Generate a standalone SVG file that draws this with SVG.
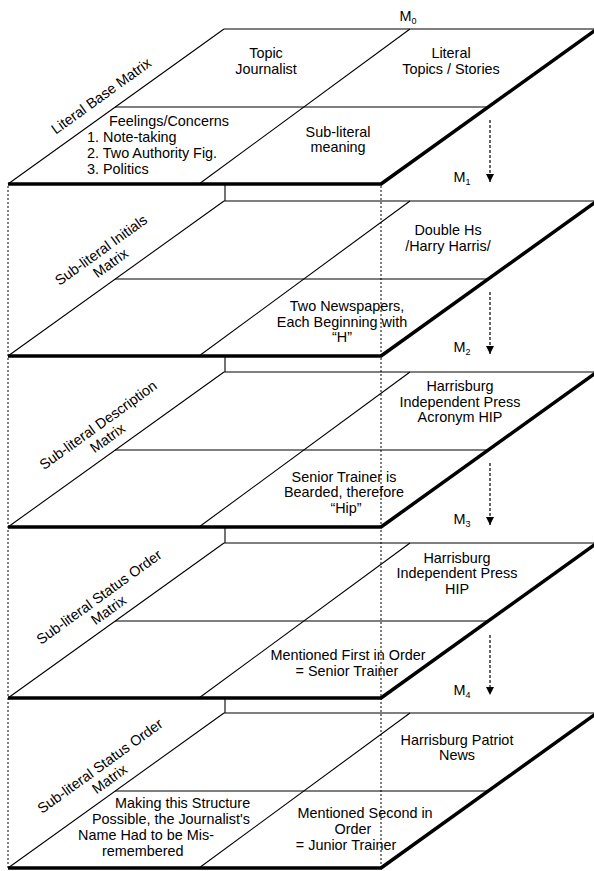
<svg xmlns="http://www.w3.org/2000/svg" width="594" height="871" viewBox="0 0 594 871">
<style>
  .bg{fill:#ffffff}
  .thin{stroke:#000;stroke-width:1.1;fill:none}
  .thick{stroke:#000;stroke-width:3.5;fill:none;stroke-linecap:butt}
  .dot{stroke:#000;stroke-width:1;stroke-dasharray:2,2;fill:none}
  .dash{stroke:#000;stroke-width:1.2;stroke-dasharray:3,2;fill:none}
  text{font-family:"Liberation Sans",Arial,sans-serif;font-size:14.4px;fill:#000}
  .c{text-anchor:middle}
  .sub{font-size:9px}
</style>
<defs>
  <marker id="ah" markerUnits="userSpaceOnUse" markerWidth="10" markerHeight="10" refX="8" refY="4" orient="auto">
    <path d="M0,0 L8,4 L0,8 z" fill="#000"/>
  </marker>
  <g id="plane">
    <line class="thin" x1="224" y1="0" x2="597" y2="0"/>
    <line class="thin" x1="8" y1="155" x2="224" y2="0"/>
    <line class="thin" x1="115" y1="78" x2="489" y2="78"/>
    <line class="thin" x1="410" y1="0" x2="199" y2="155"/>
    <line class="thick" x1="8" y1="155" x2="382" y2="155"/>
    <line class="thick" x1="381" y1="155" x2="597" y2="0"/>
  </g>
</defs>
<rect class="bg" x="0" y="0" width="594" height="871"/>

<g id="m0">
  <use href="#plane" transform="translate(0,29)"/>
  <text x="408" y="21" class="c">M<tspan class="sub" dy="3">0</tspan></text>
  <text transform="translate(104,100) rotate(-35.8)" class="c">Literal Base Matrix</text>
  <text class="c" x="266" y="58">Topic</text>
  <text class="c" x="266" y="74">Journalist</text>
  <text class="c" x="451" y="58">Literal</text>
  <text class="c" x="451" y="74">Topics / Stories</text>
  <text class="c" x="169" y="126">Feelings/Concerns</text>
  <text x="87" y="142">1. Note-taking</text>
  <text x="87" y="158">2. Two Authority Fig.</text>
  <text x="87" y="174">3. Politics</text>
  <text class="c" x="338" y="137">Sub-literal</text>
  <text class="c" x="338" y="152">meaning</text>
</g>

<g id="m1">
  <use href="#plane" transform="translate(0,201)"/>
  <g transform="translate(104,254) rotate(-35.8)">
    <text class="c" x="0" y="0">Sub-literal Initials</text>
    <text class="c" x="0" y="16">Matrix</text>
  </g>
  <text class="c" x="448" y="235">Double Hs</text>
  <text class="c" x="448" y="251">/Harry Harris/</text>
  <text class="c" x="347" y="311">Two Newspapers,</text>
  <text class="c" x="342" y="327">Each Beginning with</text>
  <text class="c" x="342" y="342">“H”</text>
</g>

<g id="m2">
  <use href="#plane" transform="translate(0,372)"/>
  <g transform="translate(101,429) rotate(-35.8)">
    <text class="c" x="0" y="0">Sub-literal Description</text>
    <text class="c" x="0" y="16">Matrix</text>
  </g>
  <text class="c" x="460" y="391">Harrisburg</text>
  <text class="c" x="460" y="407">Independent Press</text>
  <text class="c" x="460" y="422">Acronym HIP</text>
  <text class="c" x="344" y="482">Senior Trainer is</text>
  <text class="c" x="344" y="497">Bearded, therefore</text>
  <text class="c" x="346" y="513">“Hip”</text>
</g>

<g id="m3">
  <use href="#plane" transform="translate(0,543)"/>
  <g transform="translate(102,601) rotate(-35.8)">
    <text class="c" x="0" y="0">Sub-literal Status Order</text>
    <text class="c" x="0" y="16">Matrix</text>
  </g>
  <text class="c" x="457" y="563">Harrisburg</text>
  <text class="c" x="457" y="578">Independent Press</text>
  <text class="c" x="457" y="594">HIP</text>
  <text class="c" x="348" y="660">Mentioned First in Order</text>
  <text class="c" x="347" y="676">= Senior Trainer</text>
</g>

<g id="m4">
  <use href="#plane" transform="translate(0,713)"/>
  <g transform="translate(103,770) rotate(-35.8)">
    <text class="c" x="0" y="0">Sub-literal Status Order</text>
    <text class="c" x="0" y="16">Matrix</text>
  </g>
  <text class="c" x="457" y="745">Harrisburg Patriot</text>
  <text class="c" x="457" y="760">News</text>
  <text x="115" y="808">Making this Structure</text>
  <text x="92" y="824">Possible, the Journalist's</text>
  <text x="78" y="840">Name Had to be Mis-</text>
  <text x="102" y="856">remembered</text>
  <text class="c" x="365" y="818">Mentioned Second in</text>
  <text class="c" x="353" y="834">Order</text>
  <text class="c" x="346" y="850">= Junior Trainer</text>
</g>

<g id="connectors">
  <line class="dot" x1="8" y1="186" x2="8" y2="869"/>
  <line class="dot" x1="381" y1="186" x2="381" y2="869"/>
  <line class="thin" x1="225" y1="184" x2="225" y2="201"/>
  <line class="thin" x1="225" y1="356" x2="225" y2="372"/>
  <line class="thin" x1="225" y1="527" x2="225" y2="543"/>
  <line class="thin" x1="225" y1="698" x2="225" y2="713"/>
  <line class="dash" x1="490" y1="120" x2="490" y2="182" marker-end="url(#ah)"/>
  <line class="dash" x1="490" y1="292" x2="490" y2="354" marker-end="url(#ah)"/>
  <line class="dash" x1="490" y1="463" x2="490" y2="525" marker-end="url(#ah)"/>
  <line class="dash" x1="490" y1="635" x2="490" y2="695" marker-end="url(#ah)"/>
  <text x="462" y="182" class="c">M<tspan class="sub" dy="3">1</tspan></text>
  <text x="462" y="352" class="c">M<tspan class="sub" dy="3">2</tspan></text>
  <text x="462" y="524" class="c">M<tspan class="sub" dy="3">3</tspan></text>
  <text x="462" y="695" class="c">M<tspan class="sub" dy="3">4</tspan></text>
</g>
</svg>
